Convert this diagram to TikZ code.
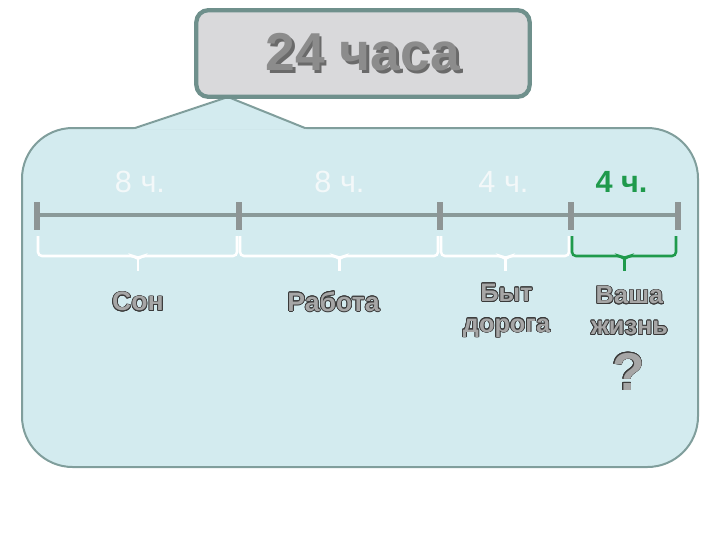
\documentclass[tikz,border=0pt]{standalone}
\usepackage{fontspec}
\setmainfont{Liberation Sans}
\usepackage{contour}
\usetikzlibrary{calc}

\definecolor{panelfill}{HTML}{D3EBEF}
\definecolor{panelline}{HTML}{809E9C}
\definecolor{titlefill}{HTML}{D9D9DB}
\definecolor{titleline}{HTML}{6F908C}
\definecolor{titletext}{HTML}{8C8C8C}
\definecolor{titleshade}{HTML}{6A6A6A}
\definecolor{axisgray}{HTML}{8A9A99}
\definecolor{tickgray}{HTML}{8E9595}
\definecolor{hourwhite}{HTML}{F3F8F9}
\definecolor{lifegreen}{HTML}{1F9A4C}
\definecolor{wordgray}{HTML}{A6A6A6}
\definecolor{wordline}{HTML}{3A3A3A}

\contourlength{0.55pt}
\newcommand{\outl}[1]{\textcolor{wordgray}{\contour{wordline}{#1}}}
\newcommand{\shadowed}[1]{\rlap{\raisebox{-1.9pt}{\hspace{1.9pt}\textcolor{titleshade}{#1}}}#1}

\begin{document}
\begin{tikzpicture}[x=0.75pt, y=-0.75pt,
    panel/.style={fill=panelfill, draw=panelline, line width=1.5pt},
    titlebox/.style={rectangle, rounded corners=9pt, fill=titlefill, draw=titleline,
      line width=3.2pt, minimum width=250pt, minimum height=65pt},
    titleword/.style={font=\fontsize{40}{40}\bfseries, text=titletext},
    hours/.style={font=\fontsize{23}{23}\selectfont, text=hourwhite},
    bracket/.style={line width=1.9pt, rounded corners=3pt},
    word/.style={font=\fontsize{20}{22}\bfseries, align=center}]

  \useasboundingbox (0,0) rectangle (720,540);

  %% callout panel
  \draw[panel, rounded corners=38pt] (22,128) rectangle (698,467);
  \coordinate (pl) at (135,128);
  \coordinate (pr) at (305,128);
  \coordinate (apex) at (228,97);
  \fill[panelfill] ($(pl)+(-2,1.6)$) -- (apex) -- ($(pr)+(2,1.6)$) -- cycle;
  \draw[panelline, line width=1.5pt] (pl) -- (apex) -- (pr);

  %% title box
  \node[titlebox, titleword] (title) at (363,53.5) {\shadowed{24 часа}};

  %% time line
  \coordinate (t0) at (37,215);
  \coordinate (t1) at (239,215);
  \coordinate (t2) at (440,215);
  \coordinate (t3) at (571,215);
  \coordinate (t4) at (678,215);
  \draw[axisgray, line width=3pt] (t0) -- (t4);
  \foreach \t in {0,...,4} {
    \draw[tickgray, line width=4.5pt] ($(t\t)+(0,-13)$) -- ($(t\t)+(0,15)$); }

  %% braces
  \foreach \a/\b/\c in {t0/t1/white, t1/t2/white, t2/t3/white, t3/t4/lifegreen} {
    \draw[bracket, draw=\c]
        ($(\a)+(1,21)$) |- ($(\a)!0.5!(\b)+(-4,41)$) -- ($(\a)!0.5!(\b)+(0,44)$)
        -- ($(\a)!0.5!(\b)+(4,41)$) -| ($(\b)+(-2,21)$);
    \draw[bracket, draw=\c] ($(\a)!0.5!(\b)+(0,43)$) -- ($(\a)!0.5!(\b)+(0,56)$); }

  %% hours above the line
  \node[hours] (h1) at ($(t0)!0.5!(t1)+(2,-33)$) {8 ч.};
  \node[hours] (h2) at ($(t1)!0.5!(t2)+(0,-33)$) {8 ч.};
  \node[hours] (h3) at ($(t2)!0.5!(t3)+(-2,-33)$) {4 ч.};
  \node[hours, text=lifegreen, font=\fontsize{23}{23}\bfseries] (h4)
      at ($(t3)!0.5!(t4)+(-3,-33)$) {4 ч.};

  %% what the hours go to
  \node[word] (sleep) at ($(t0)!0.5!(t1)+(0,87)$) {\outl{Сон}};
  \node[word] (work) at ($(t1)!0.5!(t2)+(-6,87)$) {\outl{Работа}};
  \node[word, font=\fontsize{19}{23}\bfseries] (home) at ($(t2)!0.5!(t3)+(1,96)$)
      {\outl{Быт}\\\outl{дорога}};
  \node[word, font=\fontsize{19}{23}\bfseries] (life) at ($(t3)!0.5!(t4)+(5,96)$)
      {\outl{Ваша}\\\outl{жизнь}};
  \node[word, font=\fontsize{40}{40}\bfseries] (ask) at ($(life)+(-1,61)$) {\outl{?}};

\end{tikzpicture}
\end{document}
